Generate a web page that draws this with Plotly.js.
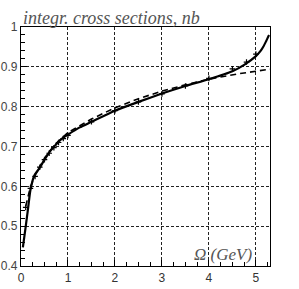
<!DOCTYPE html>
<html><head><meta charset="utf-8">
<script src="https://cdn.plot.ly/plotly-3.0.1.min.js"></script>
<style>html,body{margin:0;padding:0;background:#fff}#c{width:299px;height:289px}</style>
</head><body><div id="c"></div>
<script>
const solidX = [0.04, 0.1, 0.15, 0.2, 0.28, 0.4, 0.5, 0.6, 0.7, 0.8, 0.9, 1.0, 1.25, 1.5, 2.0, 2.5, 3.0, 3.5, 4.0, 4.5, 4.75, 5.0, 5.1, 5.16, 5.22, 5.28];
const solidY = [0.447, 0.499, 0.544, 0.59, 0.626, 0.647, 0.667, 0.685, 0.699, 0.712, 0.722, 0.73, 0.748, 0.762, 0.79, 0.812, 0.833, 0.852, 0.869, 0.889, 0.905, 0.927, 0.94, 0.951, 0.965, 0.98];
const dashX = [0.1, 0.2, 0.3, 0.4, 0.5, 0.6, 0.7, 0.8, 1.0, 1.5, 2.0, 2.5, 3.0, 3.5, 4.0, 4.3, 4.6, 5.0, 5.3];
const dashY = [0.55, 0.598, 0.628, 0.651, 0.67, 0.687, 0.701, 0.714, 0.735, 0.769, 0.797, 0.82, 0.839, 0.855, 0.869, 0.876, 0.882, 0.889, 0.894];
const ptX = [0.1, 0.2, 0.3, 0.4, 0.5, 0.6, 0.7, 0.8, 0.9, 1.0, 1.5, 2.0, 2.5, 3.0, 3.5, 4.0, 4.5, 4.8, 5.0];
const ptY = [0.547, 0.595, 0.625, 0.648, 0.667, 0.683, 0.697, 0.71, 0.72, 0.728, 0.762, 0.79, 0.812, 0.832, 0.852, 0.871, 0.895, 0.912, 0.932];
const xTicks = [0, 1, 2, 3, 4, 5];
const yTicks = [0.4, 0.5, 0.6, 0.7, 0.8, 0.9, 1];
const yTickText = ['0.4', '0.5', '0.6', '0.7', '0.8', '0.9', '1'];

const traces = [
  {x: dashX, y: dashY, mode: 'lines', line: {color: '#000', width: 1.6, dash: '6px,4px'}, hoverinfo: 'skip'},
  {x: solidX, y: solidY, mode: 'lines', line: {color: '#000', width: 2.2, shape: 'spline', smoothing: 0.6}, hoverinfo: 'skip'},
  {x: ptX, y: ptY, mode: 'markers', marker: {symbol: 'cross-thin', size: 4, line: {color: '#000', width: 1.2}}, hoverinfo: 'skip'}
];
const gridStyle = {gridcolor: '#222', griddash: '3px,2px', gridwidth: 1};
const layout = {
  width: 299, height: 289, showlegend: false,
  paper_bgcolor: '#fff', plot_bgcolor: '#fff',
  margin: {l: 21, r: 29, t: 27, b: 23},
  font: {family: 'Liberation Sans, Arial, sans-serif', size: 11, color: '#444'},
  xaxis: Object.assign({range: [0, 5.3], tickvals: xTicks, ticktext: xTicks.map(String),
    showline: true, linecolor: '#000', linewidth: 1.2, mirror: true, zeroline: false,
    ticks: 'inside', ticklen: 6, tickcolor: '#000',
    minor: {dtick: 0.25, ticks: 'inside', ticklen: 4, tickcolor: '#000', showgrid: false},
    tickfont: {size: 12, color: '#333'}}, gridStyle),
  yaxis: Object.assign({range: [0.4, 1], tickvals: yTicks, ticktext: yTickText,
    showline: true, linecolor: '#000', linewidth: 1.2, mirror: true, zeroline: false,
    ticks: 'inside', ticklen: 6, tickcolor: '#000',
    minor: {dtick: 0.02, ticks: 'inside', ticklen: 4, tickcolor: '#000', showgrid: false},
    tickfont: {size: 12, color: '#444'}}, gridStyle),
  annotations: [
    {text: 'integr. cross sections, nb', xref: 'paper', yref: 'paper', x: 0, y: 1, xanchor: 'left', yanchor: 'bottom',
     yshift: -3, showarrow: false, font: {family: 'Liberation Serif, serif', size: 18, color: '#555', style: 'italic'}},
    {text: 'Ω (GeV)', xref: 'paper', yref: 'paper', x: 0.81, y: 0, xanchor: 'center', yanchor: 'bottom',
     showarrow: false, font: {family: 'Liberation Serif, serif', size: 17, color: '#555', style: 'italic'}}
  ]
};
Plotly.newPlot('c', traces, layout, {staticPlot: true, displayModeBar: false});
</script></body></html>
